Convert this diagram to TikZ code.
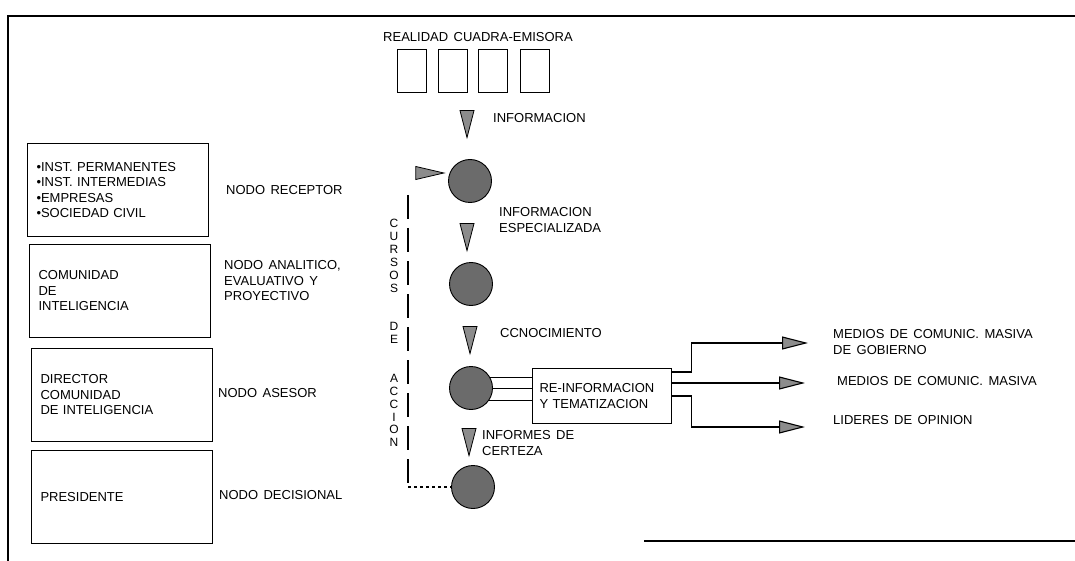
\documentclass[tikz,border=0pt]{standalone}
\usepackage{fontspec}
\setmainfont{Liberation Sans}[WordSpace=1.5]
\usetikzlibrary{positioning,arrows.meta,shapes.geometric}

\begin{document}
\begin{tikzpicture}[x=1pt,y=-1pt,
    every node/.style={font=\fontsize{13}{15.5}\selectfont},
    lbox/.style={draw,line width=1.1pt,minimum width=181pt,minimum height=93pt,text width=163pt,align=left,inner xsep=9pt},
    qbox/.style={draw,line width=1.1pt,minimum width=29pt,minimum height=43pt},
    nodo/.style={circle,draw,line width=0.9pt,fill=black!58,minimum size=43pt,inner sep=0pt},
    dtri/.style={isosceles triangle,isosceles triangle stretches,shape border rotate=-90,draw,fill=black!45,line width=0.8pt,minimum width=14pt,minimum height=27pt,inner sep=0pt},
    rtri/.style={isosceles triangle,isosceles triangle stretches,draw,fill=black!45,line width=0.8pt,minimum width=13pt,minimum height=28pt,inner sep=0pt},
    lbl/.style={anchor=west,align=left,inner sep=0pt},
    salida/.style={line width=1.1pt,-{Triangle[length=26pt,width=13pt,fill=black!45]}}]
    \useasboundingbox (0,0) rectangle (1075,561);
    \draw[line width=1.6pt] (1075,16) -- (8,16) -- (8,561);
    \draw[line width=1.6pt] (644,541) -- (1075,541);

    \node[lbox] (inst) at (118,190) {•INST. PERMANENTES\\•INST. INTERMEDIAS\\•EMPRESAS\\•SOCIEDAD CIVIL};
    \node[lbox] (comu) at (120,291) {COMUNIDAD\\DE\\INTELIGENCIA};
    \node[lbox] (dire) at (122,395) {DIRECTOR\\COMUNIDAD\\DE INTELIGENCIA};
    \node[lbox] (pres) at (122,497) {PRESIDENTE};

    \node[lbl] (nrec) at (226,190) {NODO RECEPTOR};
    \node[lbl] (nana) at (224,281) {NODO ANALITICO,\\EVALUATIVO Y\\PROYECTIVO};
    \node[lbl] (nase) at (218,393) {NODO ASESOR};
    \node[lbl] (ndec) at (219,495) {NODO DECISIONAL};

    \node (real) at (478,37) {REALIDAD CUADRA-EMISORA};
    \foreach \x/\n in {412/q1,453/q2,493/q3,535/q4}
        \node[qbox] (\n) at (\x,71) {};

    \node[dtri] (t1) at (467,116) {};
    \node[lbl] (info) at (493,118) {INFORMACION};
    \node[rtri] (t0) at (421,173) {};
    \node[nodo] (c1) at (470,181) {};
    \node[dtri] (t2) at (467,229) {};
    \node[lbl] (iesp) at (499,220) {INFORMACION\\ESPECIALIZADA};
    \node[nodo] (c2) at (471,284) {};
    \node[dtri] (t3) at (470,332) {};
    \node[lbl] (cono) at (500,333) {CCNOCIMIENTO};
    \node[nodo] (c3) at (471,388) {};
    \node[dtri] (t4) at (469,434) {};
    \node[lbl] (cert) at (482,443) {INFORMES DE\\CERTEZA};
    \node[nodo] (c4) at (473,487) {};

    \node[inner sep=0pt,align=center,font=\fontsize{12}{12.9}\selectfont] (curs) at (394,333)
        {C\\U\\R\\S\\O\\S\\[25.8pt]D\\E\\[25.8pt]A\\C\\C\\I\\O\\N};
    \coordinate (vtop) at (408,195);
    \draw[line width=1.3pt,dash pattern=on 24pt off 9pt] (vtop) -- (vtop |- c4.west);
    \draw[line width=1.3pt,dash pattern=on 3pt off 3pt] (vtop |- c4.west) -- (c4.west);

    \node[draw,line width=1.1pt,minimum width=139pt,minimum height=55pt,text width=125pt,align=left,inner xsep=7pt] (reinfo) at (602,396)
        {RE-INFORMACION\\Y TEMATIZACION};
    \foreach \a in {28,0,-35}
        \draw[line width=1pt] (c3.\a) -- (c3.\a -| reinfo.west);

    \coordinate (mgob) at (808,343);
    \coordinate (mcom) at (805,383);
    \coordinate (lide) at (805,427);
    \draw[salida] ([yshift=24]reinfo.east) -- ++(19,0) |- (mgob);
    \draw[salida] ([yshift=13]reinfo.east) -- (mcom);
    \draw[salida] (reinfo.east) -- ++(19,0) |- (lide);

    \node[lbl] (tgob) at (833,342) {MEDIOS DE COMUNIC. MASIVA\\DE GOBIERNO};
    \node[lbl] (tcom) at (837,381) {MEDIOS DE COMUNIC. MASIVA};
    \node[lbl] (tlid) at (833,420) {LIDERES DE OPINION};
\end{tikzpicture}
\end{document}
